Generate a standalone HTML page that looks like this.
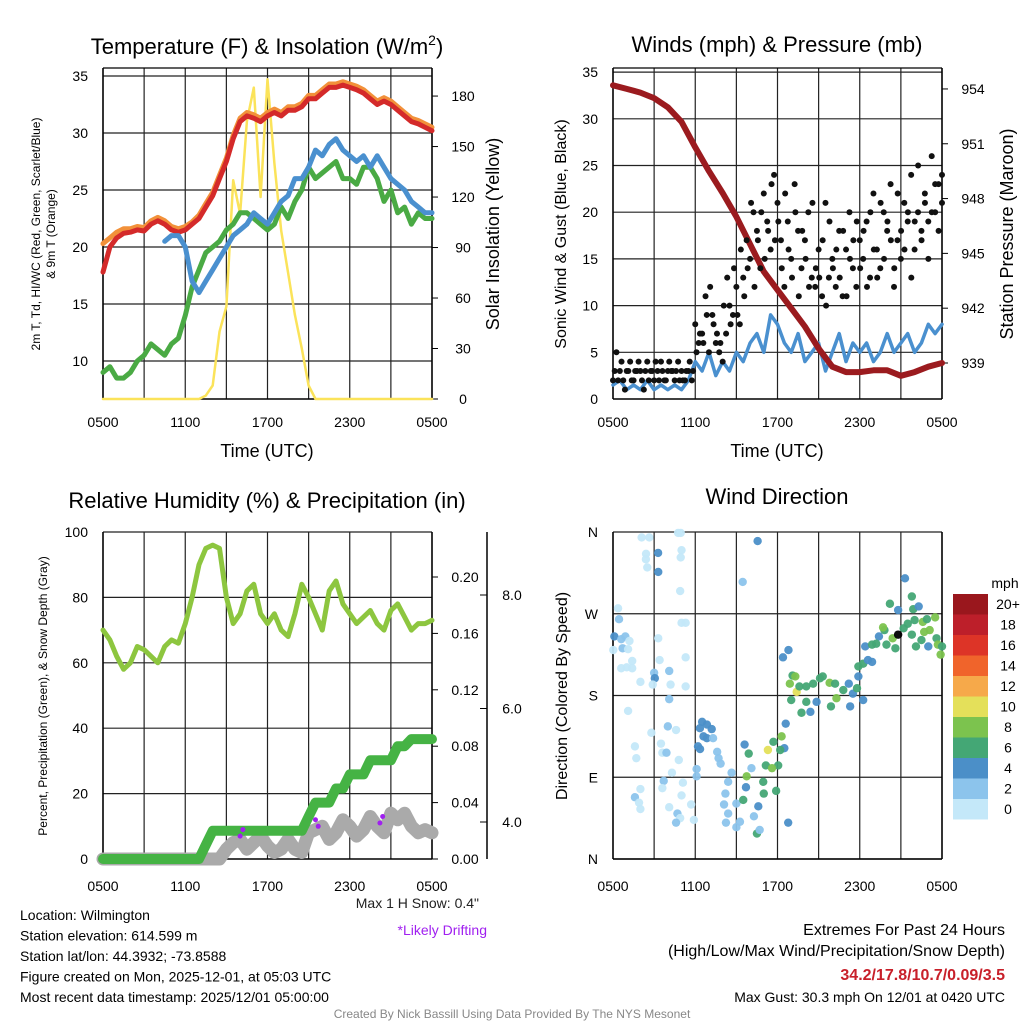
<!DOCTYPE html>
<html><head><meta charset="utf-8"><style>
body{margin:0;background:#fff}
svg{display:block;font-family:"Liberation Sans",sans-serif}
</style></head><body>
<svg id="s" width="1024" height="1024" viewBox="0 0 1024 1024"></svg>
<script>
const tempRed=[17.8,20,20.8,21.2,21.3,21.5,21.4,22,22.3,22,21.5,21.3,21.5,22,22.5,23.5,24.5,26,27.5,29.5,31,31.5,31.3,31,31.5,31.8,31.5,32,32,32.3,33,33,33.5,34,34,34.2,34,33.8,33.5,33,32.5,32.8,32.5,32,31.5,31,30.8,30.5,30.2];
const tempOrange=[20.3,20.8,21.3,21.6,21.6,21.8,21.7,22.3,22.6,22.3,21.8,21.6,21.8,22.2,22.8,23.8,24.8,26.3,27.8,29.8,31.3,31.8,31.6,31.3,31.8,32.1,31.8,32.3,32.3,32.6,33.3,33.3,33.8,34.3,34.3,34.5,34.3,34.1,33.8,33.3,32.8,33.1,32.8,32.3,31.8,31.3,31.1,30.8,30.5];
const tempGreen=[9,9.5,8.5,8.5,9,10,10.5,11.5,11,10.5,11.5,12,14,16.5,18,19.5,20,20.5,21.5,22,23,23,22.5,22,21.5,22,23.5,22.5,24,25,27,26,26.5,27,27.5,26,26,25.5,27,27,26,24,25,23,23.5,22,23,22.5,22.5];
const tempBlue=[null,17,null,null,null,null,20.5,null,null,20.5,21,21,20,17,16,17,18,19,20,21,21.5,22,23,22.5,22,23,24,24.5,26,26,27,28.5,28,29,29.5,28.5,28,27.5,28,27,28,27,26,25.5,25,24,23.5,23,23];
const solar=[0,0,0,0,0,0,0,0,0,0,0,0,0,0,0,2,8,40,55,130,110,165,185,120,190,140,100,75,50,30,8,0,0,0,0,0,0,0,0,0,0,0,0,0,0,0,0,0,0];
const timeTicks=["0500","1100","1700","2300","0500"];
const tempTicks=[10,15,20,25,30,35];
const solarTicks=[0,30,60,90,120,150,180];

const pressure=[954.2,954,953.8,953.5,953,952.2,950.8,949.5,948.3,947,945.5,944,943,942,941,939.8,938.8,938.5,938.5,938.6,938.6,938.3,938.5,938.8,939];
const sonic=[1.5,2,1,1.5,1,2,1,1.5,1,1.5,1,2,4,3,5,2.5,4,3,5,4,6,7,5,9,8,6,5,7,4,5,6,3,5,7,4,6,5,6,4,5,7,5,6,7,5,6,8,7,8];
const gust=[2,5,3,2,3,4,2,3,3,1,4,3,2,3,4,2,3,3,2,4,3,2,3,2,8,6,7,11,5,9,6,5,4,7,10,9,12,8,13,17,15,20,18,14,22,19,16,24,21,17,12,19,15,23,18,14,17,20,13,12,16,11,21,13,15,12,18,11,16,20,14,12,17,15,19,13,22,16,14,20,18,23,12,17,15,21,19,24,16,20,18,22,19,26,20,23,21];
const gust2=[3,2,4,1,3,2,3,4,2,3,2,3,4,2,3,2,4,3,3,2,2,3,4,3,5,7,6,9,12,8,7,6,10,13,8,14,9,16,11,14,21,12,17,20,15,18,23,17,19,14,22,16,13,20,11,18,15,12,21,14,13,17,10,19,14,16,13,18,11,15,17,19,14,18,12,20,16,13,21,15,19,17,14,22,18,16,20,13,19,25,17,21,15,20,23,18,24];
const windTicks=[0,5,10,15,20,25,30,35];
const presTicks=[939,942,945,948,951,954];

const rh=[70,67,62,58,60,65,64,62,60,65,67,66,72,80,90,95,96,95,80,72,75,82,84,75,72,75,70,68,75,84,80,75,70,82,85,78,75,72,74,76,72,70,76,78,74,70,72,72,73];
const precip=[0,0,0,0,0,0,0,0,0,0,0,0,0,0,0,0.01,0.02,0.02,0.02,0.02,0.02,0.02,0.02,0.02,0.02,0.02,0.02,0.02,0.02,0.02,0.03,0.04,0.04,0.04,0.05,0.05,0.06,0.06,0.06,0.07,0.07,0.07,0.07,0.08,0.08,0.085,0.085,0.085,0.085];
const snow=[0,0,0,0,0,0,0,0,0,0,0,0,0,0,0,0,0,0,3,5,6,3,5,7,4,2,3,6,3,2,8,9,10,6,8,12,10,7,9,13,10,8,14,12,14,10,8,9,8];
const rhTicks=[0,20,40,60,80,100];
const precipTicks=[0,0.04,0.08,0.12,0.16,0.20];
const snowTicks=[4,6,8];

const wdTime=[2.09,2.65,4.75,4.94,2.41,3.29,5.0,4.94,2.4,2.5,3.3,4.9,9.46,10.55,0.37,0.44,0.1,0.6,0.9,1.2,0.02,0.7,1.1,1.4,0.6,1.0,1.4,3.3,5.0,5.3,5.3,3.4,3.0,3.05,4.1,2.0,2.9,4.2,5.3,4.1,1.1,2.8,4.0,4.6,3.5,1.6,3.6,3.9,1.7,4.8,4.3,6.1,6.1,3.7,5.1,3.6,2.0,1.6,1.9,5.0,2.0,4.1,4.7,5.7,4.9,4.6,5.9,
6.34,6.5,6.85,7.2,6.6,6.85,6.2,6.35,7.3,7.6,7.7,7.85,8.65,8.4,8.2,8.1,8.4,9.0,9.26,9.0,8.24,
9.5,9.7,10.1,9.75,10.28,10.5,10.6,10.7,10.96,11.0,11.15,11.3,11.7,11.9,12.05,12.3,12.5,12.6,12.78,9.6,9.9,11.6,12.2,
12.4,12.8,13.1,13.3,12.9,13.4,13.6,14.1,14.6,15.1,15.3,15.8,16.2,16.3,15.9,14.85,14.4,13.75,13.0,14.1,16.8,17.2,17.5,17.8,17.9,18.25,17.3,17.9,18.25,18.6,18.9,18.4,18.9,19.4,19.8,19.2,19.95,20.6,19.7,20.2,20.8,21.3,21.8,21.9,22.3,22.0,21.5,21.2,21.8,22.6,22.9,23.5,23.1,22.7,23.6,23.7,23.9,23.0,22.1,22.5,24.0,20.4,20.8];
const wdDir=[354,354,359,359,336,337,340,332,330,321,316,295,305,350,276,264,245,242,245,240,230,232,231,218,210,211,210,243,260,260,222,219,205,199,207,195,192,192,190,176,163,139,146,142,127,124,117,117,111,109,95,99,91,86,84,78,77,68,62,70,55,57,50,60,45,40,43,
144,151,148,143,135,133,124,121,133,118,111,105,95,85,72,60,50,61,41,35,40,
65,79,100,91,47,28,58,32,85,72,103,120,129,75,103,135,122,149,40,126,116,100,120,
222,230,202,201,193,184,190,190,193,199,201,194,193,177,168,173,162,161,175,173,186,193,182,188,201,175,168,212,215,219,217,234,236,245,252,237,236,232,255,281,274,309,289,275,278,263,259,254,247,261,264,266,252,250,243,236,225,234,234,241,234,243,247];
const wdSpeed=[1,1,1,1,1,4,1,1,1,1,4,1,3,4,1,3,4,3,3,1,1,3,1,1,1,1,1,1,1,1,1,1,3,4,3,1,1,1,1,3,1,1,3,1,1,1,1,3,1,1,1,3,3,3,1,1,1,3,1,1,1,1,3,1,1,3,1,
4,4,4,4,4,4,4,4,3,3,3,3,3,3,3,3,3,3,3,3,3,
7,4,3,9,3,7,4,3,7,7,7,11,7,7,7,9,4,4,4,4,7,9,7,
4,4,7,9,9,11,7,7,7,7,7,9,7,9,7,4,4,7,7,7,7,4,4,7,4,4,4,7,7,4,4,4,7,4,7,7,7,7,9,7,4,4,7,7,4,7,7,7,7,9,7,9,9,9,7,9,9,4,7,7,7,9];
const cbLabels=["20+","18","16","14","12","10","8","6","4","2","0"];
const cbColors=["#9a171d","#bd1f2a","#dd3427","#f0642b","#f6a94a","#e4e05a","#7cc34e","#44a775","#4b8fc8","#8cc4ec","#c4e8f9"];

const S=document.getElementById('s');
const NS="http://www.w3.org/2000/svg";
function el(tag,attrs,parent){const e=document.createElementNS(NS,tag);for(const k in attrs)e.setAttribute(k,attrs[k]);(parent||S).appendChild(e);return e;}
function txt(x,y,s,size,anchor,fill,name,extra){const e=el('text',Object.assign({x:x,y:y,'font-size':size,'text-anchor':anchor||'start',fill:fill||'#000'},extra||{}));e.textContent=s;


return e;}
function line(x1,y1,x2,y2,stroke,w,name){const e=el('line',{x1:x1,y1:y1,x2:x2,y2:y2,stroke:stroke,'stroke-width':w});


return e;}
function path(xs,ys,stroke,w,name){let d='',pen=false;for(let i=0;i<xs.length;i++){if(ys[i]==null||isNaN(ys[i])){pen=false;continue;}d+=(pen?'L':'M')+xs[i].toFixed(1)+','+ys[i].toFixed(1);pen=true;}
const e=el('path',{d:d,fill:'none',stroke:stroke,'stroke-width':w,'stroke-linejoin':'round','stroke-linecap':'round'});


return e;}
function dot(x,y,r,fill,name){const e=el('circle',{cx:x,cy:y,r:r,fill:fill});


return e;}

const X0L=103,X0R=613,PW=329;
function xIdx(i,n,x0){return x0+i/(n-1)*PW;}
function grid(x0,y0,y1,hy,name){
  for(let k=0;k<=8;k++){const x=x0+k*PW/8;line(x,y0,x,y1,'#222',1.2,name+'-vgrid');}
  hy.forEach(y=>line(x0,y,x0+PW,y,'#222',1.2,name+'-hgrid'));
  line(x0,y0,x0,y1,'#000',1.5,name+'-left-axis');line(x0+PW,y0,x0+PW,y1,'#000',1.5,name+'-right-axis');
  line(x0,y1,x0+PW,y1,'#000',1.5,name+'-bottom-axis');
}
function xlabels(x0,y,name){timeTicks.forEach((t,k)=>{const x=x0+k*PW/4;txt(x,y+27,t,14,'middle','#000',name+'-xtick-label');});}

// ===== Panel 1 =====
const y1L=v=>361-(v-10)*11.4, y1R=v=>399-v*1.683;
grid(X0L,68,399,tempTicks.map(y1L),'temp');
line(X0L,68,X0L+PW,68,'#000',1.2,'temp-top');
tempTicks.forEach(v=>txt(88,y1L(v)+5,String(v),14,'end','#000','temp-ytick-label'));
solarTicks.forEach(v=>{line(X0L+PW,y1R(v),X0L+PW+6,y1R(v),'#000',1,'solar-tick');txt(463,y1R(v)+5,String(v),14,'middle','#000','solar-ytick-label');});
const xs49=tempRed.map((_,i)=>xIdx(i,49,X0L));
path(xs49,solar.map(y1R),'#fbe35a',2.5,'solar-line');
path(xs49,tempGreen.map(y1L),'#4aaa44',5,'dewpoint-line');
path(xs49,tempOrange.map(y1L),'#f2913a',5,'nine-m-temp-line');
path(xs49,tempRed.map(y1L),'#d42a2a',5,'temp-line');
path(xs49,tempBlue.map(v=>v==null?null:y1L(v)),'#4a90cf',5,'windchill-line');
xlabels(X0L,400,'temp');
const t1=txt(267,54,'Temperature (F) & Insolation (W/m',22,'middle','#000','temp-title');
const sup=el('tspan',{'font-size':14,dy:-9},t1);sup.textContent='2';
const tp=el('tspan',{dy:9},t1);tp.textContent=')';
txt(267,457,'Time (UTC)',18,'middle','#000','temp-x-title');
txt(0,0,'2m T, Td, HI/WC (Red, Green, Scarlet/Blue)',12,'middle','#000','temp-y-title',{transform:'translate(40,234) rotate(-90)'});
txt(0,0,'& 9m T (Orange)',12,'middle','#000','temp-y-title-2',{transform:'translate(55,234) rotate(-90)'});
txt(0,0,'Solar Insolation (Yellow)',18,'middle','#000','solar-y-title',{transform:'translate(499,234) rotate(-90)'});

// ===== Panel 2 =====
const y2L=v=>399-v*9.34, y2P=p=>363-(p-939)*18.27;
grid(X0R,68,399,windTicks.slice(1).map(y2L),'wind');
line(X0R,68,X0R+PW,68,'#000',1.2,'wind-top');
windTicks.forEach(v=>txt(598,y2L(v)+5,String(v),14,'end','#000','wind-ytick-label'));
presTicks.forEach(v=>{line(X0R+PW,y2P(v),X0R+PW+6,y2P(v),'#000',1,'pres-tick');txt(973,y2P(v)+5,String(v),14,'middle','#000','pres-ytick-label');});
path(xs49.map(x=>x+510),sonic.map(y2L),'#4a90cf',3.5,'sonic-wind-line');
path(pressure.map((_,i)=>xIdx(i,25,X0R)),pressure.map(y2P),'#9b1b1f',6,'pressure-line');
gust.forEach((v,i)=>dot(xIdx(i,97,X0R),y2L(v),3,'#111','gust-dot'));
gust2.forEach((v,i)=>dot(xIdx(i+0.5,97.5,X0R),y2L(v),3,'#111','gust-dot'));
xlabels(X0R,400,'wind');
txt(777,52,'Winds (mph) & Pressure (mb)',22,'middle','#000','wind-title');
txt(777,457,'Time (UTC)',18,'middle','#000','wind-x-title');
txt(0,0,'Sonic Wind & Gust (Blue, Black)',16,'middle','#000','wind-y-title',{transform:'translate(566,234) rotate(-90)'});
txt(0,0,'Station Pressure (Maroon)',18,'middle','#000','pres-y-title',{transform:'translate(1013,234) rotate(-90)'});

// ===== Panel 3 =====
const y3L=v=>859-v*3.27, y3P=v=>859-v*1410, y3S=v=>1049-v*56.75;
grid(X0L,532,859,rhTicks.slice(1).map(y3L),'rh');
rhTicks.forEach(v=>txt(88,y3L(v)+5,String(v),14,'end','#000','rh-ytick-label'));
precipTicks.forEach(v=>{line(X0L+PW,y3P(v),X0L+PW+6,y3P(v),'#000',1,'precip-tick');txt(465,y3P(v)+5,v.toFixed(2),14,'middle','#000','precip-ytick-label');});
line(487,532,487,859,'#000',1.5,'snow-axis');
snowTicks.forEach(v=>{line(480,y3S(v),487,y3S(v),'#000',1,'snow-tick');txt(512,y3S(v)+5,v.toFixed(1),14,'middle','#000','snow-ytick-label');});
path(xs49,snow.map(y3L),'#aaaaaa',13,'snow-depth-line');
path(xs49,precip.map(y3P),'#45b344',10,'precip-line');
path(xs49,rh.map(y3L),'#8dc63f',5,'rh-line');
[[10.0,7],[10.2,9],[15.5,12],[15.7,10],[20.2,11],[20.4,13]].forEach(p=>dot(X0L+p[0]/24*PW,y3L(p[1]),2.5,'#a020f0','drifting-mark'));
xlabels(X0L,864,'rh');
txt(267,508,'Relative Humidity (%) & Precipitation (in)',22,'middle','#000','rh-title');
txt(0,0,'Percent, Precipitation (Green), & Snow Depth (Gray)',12,'middle','#000','rh-y-title',{transform:'translate(47,696) rotate(-90)'});
txt(479,908,'Max 1 H Snow: 0.4"',14,'end','#222','max-snow');
txt(487,935,'*Likely Drifting',14,'end','#a020f0','drifting-note');
['Location: Wilmington','Station elevation: 614.599 m','Station lat/lon: 44.3932; -73.8588','Figure created on Mon, 2025-12-01, at 05:03 UTC','Most recent data timestamp: 2025/12/01 05:00:00'].forEach((s,k)=>txt(20,920+k*20.5,s,14,'start','#000','station-info-line'));

// ===== Panel 4 =====
const y4=d=>859-d/360*327;
grid(X0R,532,859,[0,90,180,270,360].map(y4),'wd');
['N','E','S','W','N'].forEach((s,k)=>txt(598,y4(k*90)+5,s,14,'end','#000','wd-ytick-label'));
function spdColor(s){const i=Math.min(10,Math.floor(s/2));return cbColors[10-i];}
wdTime.forEach((t,i)=>{const c=dot(X0R+t/24*PW,y4(wdDir[i]),4.2,spdColor(wdSpeed[i]),'wind-dir-dot');c.setAttribute('fill-opacity','0.95');});
xlabels(X0R,864,'wd');
txt(777,504,'Wind Direction',22,'middle','#000','wd-title');
txt(0,0,'Direction (Colored By Speed)',16,'middle','#000','wd-y-title',{transform:'translate(567,696) rotate(-90)'});
txt(1005,588,'mph',14,'middle','#000','colorbar-title');
cbColors.forEach((c,k)=>{const r=el('rect',{x:953,y:594+k*20.5,width:35,height:20.5,fill:c});


txt(1008,609+k*20.5,cbLabels[k],14,'middle','#000','colorbar-label');});
txt(1005,935,'Extremes For Past 24 Hours',16,'end','#000','extremes-title');
txt(1005,956,'(High/Low/Max Wind/Precipitation/Snow Depth)',16,'end','#000','extremes-subtitle');
txt(1005,980,'34.2/17.8/10.7/0.09/3.5',16,'end','#c8202a','extremes-values',{'font-weight':'bold'});
txt(1005,1002,'Max Gust: 30.3 mph On 12/01 at 0420 UTC',14,'end','#000','max-gust');
txt(512,1018,'Created By Nick Bassill Using Data Provided By The NYS Mesonet',12,'middle','#888','credit');
</script>
</body></html>
